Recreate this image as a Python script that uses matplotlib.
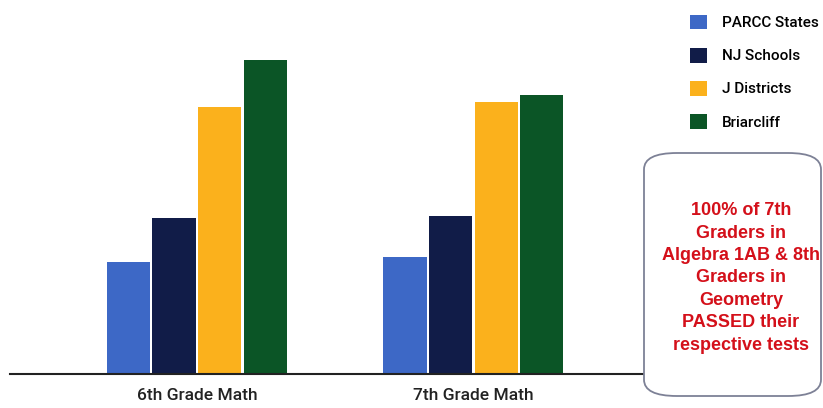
import matplotlib
matplotlib.use("Agg")
import matplotlib.pyplot as plt
from matplotlib.patches import FancyBboxPatch, Patch
import numpy as np

categories = ["6th Grade Math", "7th Grade Math"]
series_names = ["PARCC States", "NJ Schools", "J Districts", "Briarcliff"]
parcc = [28.5, 29.8]
nj = [39.7, 40.3]
jdist = [68.0, 69.3]
briarcliff = [80.0, 71.1]
colors = ["#3d68c6", "#111c48", "#fbb11c", "#0b5526"]
note = "100% of 7th\nGraders in\nAlgebra 1AB & 8th\nGraders in\nGeometry\nPASSED their\nrespective tests"

W, H = 823, 408
fig = plt.figure(figsize=(W / 100, H / 100), dpi=100)
ax = fig.add_axes([10 / W, 34 / H, 633 / W, 374 / H])

x = np.arange(len(categories))
step = 0.1646
width = 0.157
all_series = [parcc, nj, jdist, briarcliff]
for i, (vals, name, c) in enumerate(zip(all_series, series_names, colors)):
    ax.bar(x + (i - 1.5) * step, vals, width, color=c, label=name)

ax.set_xlim(-0.676, 1.613)
ax.set_ylim(0, 95.3)
for s in ["top", "right", "left"]:
    ax.spines[s].set_visible(False)
ax.spines["bottom"].set_linewidth(1.5)
ax.spines["bottom"].set_color("#222222")
ax.set_yticks([])
ax.set_xticks(x)
ax.set_xticklabels(categories, fontfamily="Roboto", fontsize=12.5, fontweight="medium",
                   color="#222222")
ax.tick_params(axis="x", length=0, pad=10)

handles = [Patch(facecolor=c, edgecolor="none") for c in colors]
fig.legend(handles, series_names, loc="upper left", bbox_to_anchor=(676 / W, 1 - 1 / H),
           frameon=False, prop={"family": "Roboto", "size": 11, "weight": "medium"},
           labelspacing=1.15, handlelength=1.1, handleheight=1.1, handletextpad=1.0)

box = FancyBboxPatch((644 / W, 12 / H), 177 / W, 243 / H,
                     boxstyle="round,pad=0,rounding_size=0.04",
                     transform=fig.transFigure, facecolor="white",
                     edgecolor="#7d8196", linewidth=1.3)
fig.patches.append(box)
fig.text(741 / W, 1 - 278 / H, note, ha="center", va="center", color="#d4101a",
         fontfamily="Liberation Sans", fontweight="bold", fontsize=13, linespacing=1.42)

fig.savefig("out.png", dpi=100)
